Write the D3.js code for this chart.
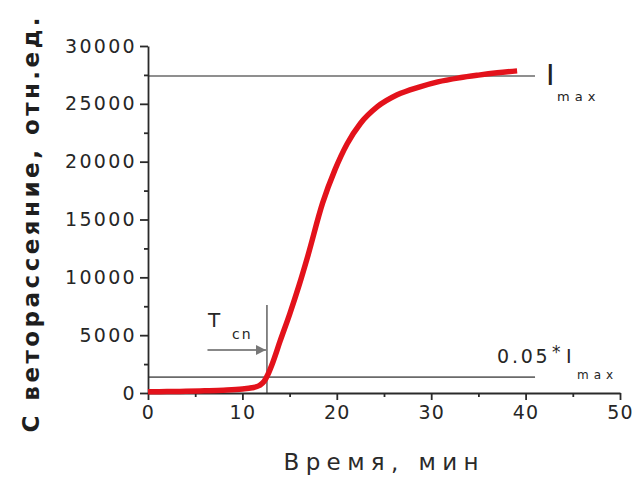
<!DOCTYPE html>
<html><head><meta charset="utf-8">
<script src="https://cdn.jsdelivr.net/npm/d3@7"></script>
<style>body{margin:0;background:#fff;}svg{display:block;}</style>
</head><body>
<script>
// ---- data ----
const timeMin = [0, 2, 4, 6, 8, 10, 11, 11.8, 12.3, 12.7, 13.2, 14, 15, 16, 16.9, 18.5, 19.8, 21.1, 22.5, 24.3, 26.4, 28.8, 30.7, 33, 35, 37, 39.1];
const scatter = [100, 120, 150, 190, 240, 340, 450, 650, 1000, 1600, 2600, 4500, 6800, 9300, 11760, 16430, 19290, 21550, 23300, 24750, 25780, 26470, 26900, 27250, 27480, 27680, 27850];
const xTicks = [0, 10, 20, 30, 40, 50];
const xMinor = [5, 15, 25, 35, 45];
const yTicks = [0, 5000, 10000, 15000, 20000, 25000, 30000];
const yMinor = [2500, 7500, 12500, 17500, 22500, 27500];
const Imax = 27400;
const Tcn = 12.6;
const xLabel = "Время, мин";
const yLabel = "С веторассеяние, отн.ед.";

const W = 633, H = 479;
const svg = d3.select("body").append("svg").attr("width", W).attr("height", H);
const x = d3.scaleLinear().domain([0, 50]).range([148, 620]);
const y = d3.scaleLinear().domain([0, 30000]).range([393, 46]);
const font = "DejaVu Sans, Verdana, sans-serif";
const axCol = "#2a2a2a";

// reference lines
svg.append("line").attr("x1", x(0)).attr("x2", x(41)).attr("y1", y(Imax)).attr("y2", y(Imax))
  .attr("stroke", "#6a6a6a").attr("stroke-width", 1.6);
svg.append("line").attr("x1", x(0)).attr("x2", x(41)).attr("y1", y(0.05 * Imax)).attr("y2", y(0.05 * Imax))
  .attr("stroke", "#6a6a6a").attr("stroke-width", 1.6);
svg.append("line").attr("x1", x(Tcn)).attr("x2", x(Tcn)).attr("y1", y(7600)).attr("y2", y(0))
  .attr("stroke", "#555").attr("stroke-width", 1.4);

// arrow
svg.append("defs").append("marker").attr("id", "ah").attr("viewBox", "0 0 10 10")
  .attr("refX", 10).attr("refY", 5).attr("markerWidth", 5).attr("markerHeight", 5).attr("orient", "auto")
  .append("path").attr("d", "M0,0L10,5L0,10z").attr("fill", "#777");
svg.append("line").attr("x1", x(6.3)).attr("x2", x(Tcn) - 1).attr("y1", y(3720)).attr("y2", y(3720))
  .attr("stroke", "#888").attr("stroke-width", 2).attr("marker-end", "url(#ah)");

// axes
function styleAxis(g, ls) {
  g.selectAll("path,line").attr("stroke", axCol).attr("stroke-width", 1.8);
  g.selectAll("text").attr("fill", "#262626").attr("font-family", font).attr("font-size", 19)
    .attr("letter-spacing", ls);
}
const gy = svg.append("g").attr("transform", `translate(${x(0)},0)`)
  .call(d3.axisLeft(y).tickValues(yTicks).tickSize(8).tickSizeOuter(0).tickPadding(3).tickFormat(d3.format("d")));
styleAxis(gy, "2.3px");
const gyMin = svg.append("g").attr("transform", `translate(${x(0)},0)`)
  .call(d3.axisLeft(y).tickValues(yMinor).tickSize(4).tickFormat(""));
gyMin.select(".domain").remove(); styleAxis(gyMin, "0px");

const gx = svg.append("g").attr("transform", `translate(0,${y(0)})`)
  .call(d3.axisBottom(x).tickValues(xTicks).tickSize(7).tickSizeOuter(0).tickPadding(6));
styleAxis(gx, "1.2px");
const gxMin = svg.append("g").attr("transform", `translate(0,${y(0)})`)
  .call(d3.axisBottom(x).tickValues(xMinor).tickSize(4).tickFormat(""));
gxMin.select(".domain").remove(); styleAxis(gxMin, "0px");

// curve
const pts = timeMin.map((t, i) => [t, scatter[i]]);
svg.append("path").datum(pts)
  .attr("d", d3.line().x(d => x(d[0])).y(d => y(d[1])).curve(d3.curveMonotoneX))
  .attr("fill", "none").attr("stroke", "#e3121b").attr("stroke-width", 5.5)
  .attr("stroke-linecap", "butt").attr("stroke-linejoin", "round");

// annotations
function txt(px, py, s, size, opts = {}) {
  const t = svg.append("text").attr("x", px).attr("y", py).text(s)
    .attr("font-family", font).attr("font-size", size).attr("fill", opts.fill || "#262626");
  if (opts.ls) t.attr("letter-spacing", opts.ls);
  if (opts.weight) t.attr("font-weight", opts.weight);
  return t;
}
txt(546, 85, "I", 29, {fill: "#222"});
txt(557, 101, "max", 13, {ls: "5px", fill: "#222"});

txt(208, 327, "T", 20);
txt(232, 339, "cn", 14, {ls: "2px"});

txt(497, 363, "0.05", 19, {ls: "2.8px"});
txt(552, 358, "*", 17);
txt(566, 363, "I", 19);
txt(577, 379, "max", 12, {ls: "5px"});

// axis titles
svg.append("text").attr("x", 381).attr("y", 470).attr("text-anchor", "middle").text(xLabel)
  .attr("font-family", font).attr("font-size", 23).attr("fill", "#2a2a2a")
  .attr("textLength", 195).attr("lengthAdjust", "spacing");
svg.append("text").attr("transform", "translate(39,225) rotate(-90)").attr("text-anchor", "middle").text(yLabel)
  .attr("font-family", font).attr("font-size", 23).attr("font-weight", "bold").attr("fill", "#1e1e1e")
  .attr("textLength", 415).attr("lengthAdjust", "spacing");
</script>
</body></html>
